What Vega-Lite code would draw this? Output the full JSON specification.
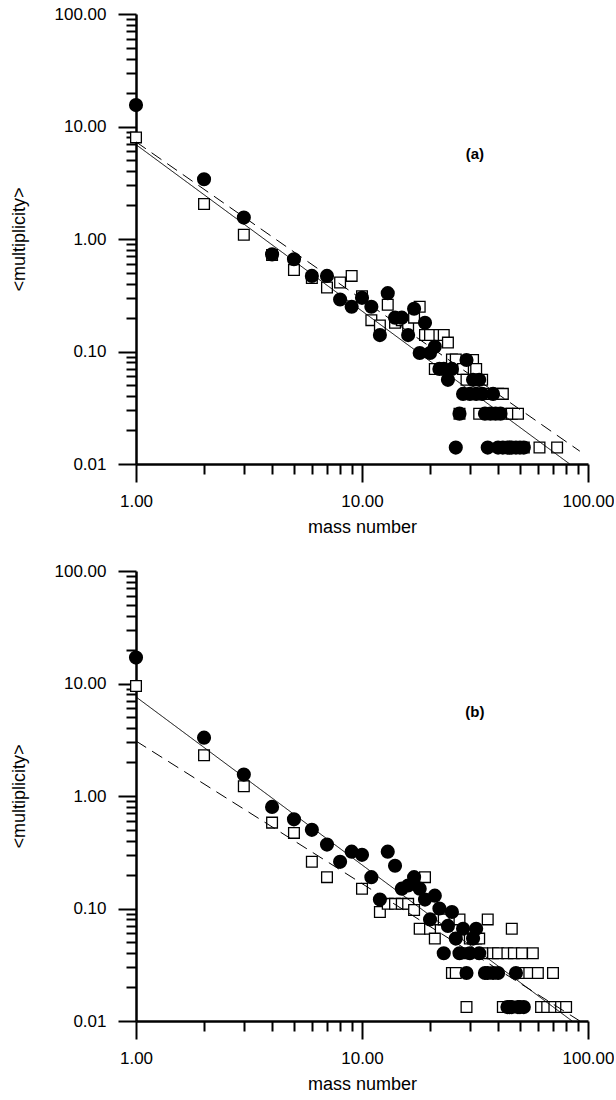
{
  "$schema": "https://vega.github.io/schema/vega-lite/v6.json",
  "background": "white",
  "padding": {"left": 10, "top": 5, "right": 0, "bottom": 0},
  "spacing": 26,
  "config": {
    "view": {"stroke": null},
    "font": "Liberation Sans",
    "axis": {
      "grid": false,
      "domainColor": "black",
      "domainWidth": 2.5,
      "tickColor": "black",
      "tickWidth": 2,
      "labelColor": "black",
      "titleColor": "black",
      "labelFontSize": 17,
      "titleFontSize": 18,
      "titleFontWeight": "normal",
      "labelOverlap": false,
      "labelBound": false,
      "labelFlush": false
    },
    "axisX": {"labelPadding": 11, "titlePadding": 9},
    "axisY": {"labelPadding": 12, "titlePadding": 26}
  },
  "datasets": {
    "points": [
      {"panel": "a", "series": "open", "A": 1, "m": 8.0},
      {"panel": "a", "series": "open", "A": 2, "m": 2.05},
      {"panel": "a", "series": "open", "A": 3, "m": 1.09},
      {"panel": "a", "series": "open", "A": 4, "m": 0.72},
      {"panel": "a", "series": "open", "A": 5, "m": 0.53},
      {"panel": "a", "series": "open", "A": 6, "m": 0.45},
      {"panel": "a", "series": "open", "A": 7, "m": 0.37},
      {"panel": "a", "series": "open", "A": 8, "m": 0.41},
      {"panel": "a", "series": "open", "A": 9, "m": 0.47},
      {"panel": "a", "series": "open", "A": 10, "m": 0.31},
      {"panel": "a", "series": "open", "A": 11, "m": 0.19},
      {"panel": "a", "series": "open", "A": 12, "m": 0.17},
      {"panel": "a", "series": "open", "A": 13, "m": 0.26},
      {"panel": "a", "series": "open", "A": 14, "m": 0.18},
      {"panel": "a", "series": "open", "A": 15, "m": 0.19},
      {"panel": "a", "series": "open", "A": 16, "m": 0.17},
      {"panel": "a", "series": "open", "A": 17, "m": 0.2},
      {"panel": "a", "series": "open", "A": 18, "m": 0.25},
      {"panel": "a", "series": "open", "A": 19, "m": 0.14},
      {"panel": "a", "series": "open", "A": 20, "m": 0.14},
      {"panel": "a", "series": "open", "A": 21, "m": 0.07},
      {"panel": "a", "series": "open", "A": 22, "m": 0.14},
      {"panel": "a", "series": "open", "A": 23, "m": 0.14},
      {"panel": "a", "series": "open", "A": 24, "m": 0.12},
      {"panel": "a", "series": "open", "A": 25, "m": 0.085},
      {"panel": "a", "series": "open", "A": 26, "m": 0.085},
      {"panel": "a", "series": "open", "A": 27, "m": 0.028},
      {"panel": "a", "series": "open", "A": 28, "m": 0.07},
      {"panel": "a", "series": "open", "A": 29, "m": 0.056},
      {"panel": "a", "series": "open", "A": 30, "m": 0.084},
      {"panel": "a", "series": "open", "A": 31, "m": 0.084},
      {"panel": "a", "series": "open", "A": 32, "m": 0.07},
      {"panel": "a", "series": "open", "A": 33, "m": 0.028},
      {"panel": "a", "series": "open", "A": 34, "m": 0.056},
      {"panel": "a", "series": "open", "A": 35, "m": 0.042},
      {"panel": "a", "series": "open", "A": 36, "m": 0.028},
      {"panel": "a", "series": "open", "A": 38, "m": 0.028},
      {"panel": "a", "series": "open", "A": 40, "m": 0.042},
      {"panel": "a", "series": "open", "A": 42, "m": 0.042},
      {"panel": "a", "series": "open", "A": 44, "m": 0.028},
      {"panel": "a", "series": "open", "A": 46, "m": 0.028},
      {"panel": "a", "series": "open", "A": 49, "m": 0.028},
      {"panel": "a", "series": "open", "A": 52, "m": 0.014},
      {"panel": "a", "series": "open", "A": 61, "m": 0.014},
      {"panel": "a", "series": "open", "A": 73, "m": 0.014},
      {"panel": "a", "series": "filled", "A": 1, "m": 15.5},
      {"panel": "a", "series": "filled", "A": 2, "m": 3.4},
      {"panel": "a", "series": "filled", "A": 3, "m": 1.55},
      {"panel": "a", "series": "filled", "A": 4, "m": 0.73},
      {"panel": "a", "series": "filled", "A": 5, "m": 0.66},
      {"panel": "a", "series": "filled", "A": 6, "m": 0.47},
      {"panel": "a", "series": "filled", "A": 7, "m": 0.47},
      {"panel": "a", "series": "filled", "A": 8, "m": 0.29},
      {"panel": "a", "series": "filled", "A": 9, "m": 0.25},
      {"panel": "a", "series": "filled", "A": 10, "m": 0.3},
      {"panel": "a", "series": "filled", "A": 11, "m": 0.25},
      {"panel": "a", "series": "filled", "A": 12, "m": 0.14},
      {"panel": "a", "series": "filled", "A": 13, "m": 0.33},
      {"panel": "a", "series": "filled", "A": 14, "m": 0.2},
      {"panel": "a", "series": "filled", "A": 15, "m": 0.2},
      {"panel": "a", "series": "filled", "A": 16, "m": 0.14},
      {"panel": "a", "series": "filled", "A": 17, "m": 0.24},
      {"panel": "a", "series": "filled", "A": 18, "m": 0.097},
      {"panel": "a", "series": "filled", "A": 19, "m": 0.18},
      {"panel": "a", "series": "filled", "A": 20, "m": 0.097},
      {"panel": "a", "series": "filled", "A": 21, "m": 0.11},
      {"panel": "a", "series": "filled", "A": 22, "m": 0.07},
      {"panel": "a", "series": "filled", "A": 23, "m": 0.07},
      {"panel": "a", "series": "filled", "A": 24, "m": 0.056},
      {"panel": "a", "series": "filled", "A": 25, "m": 0.07},
      {"panel": "a", "series": "filled", "A": 26, "m": 0.014},
      {"panel": "a", "series": "filled", "A": 27, "m": 0.028},
      {"panel": "a", "series": "filled", "A": 28, "m": 0.042},
      {"panel": "a", "series": "filled", "A": 29, "m": 0.084},
      {"panel": "a", "series": "filled", "A": 30, "m": 0.042},
      {"panel": "a", "series": "filled", "A": 31, "m": 0.056},
      {"panel": "a", "series": "filled", "A": 32, "m": 0.042},
      {"panel": "a", "series": "filled", "A": 33, "m": 0.056},
      {"panel": "a", "series": "filled", "A": 34, "m": 0.042},
      {"panel": "a", "series": "filled", "A": 35, "m": 0.028},
      {"panel": "a", "series": "filled", "A": 36, "m": 0.014},
      {"panel": "a", "series": "filled", "A": 37, "m": 0.028},
      {"panel": "a", "series": "filled", "A": 38, "m": 0.042},
      {"panel": "a", "series": "filled", "A": 39, "m": 0.028},
      {"panel": "a", "series": "filled", "A": 40, "m": 0.014},
      {"panel": "a", "series": "filled", "A": 41, "m": 0.028},
      {"panel": "a", "series": "filled", "A": 42, "m": 0.014},
      {"panel": "a", "series": "filled", "A": 44, "m": 0.014},
      {"panel": "a", "series": "filled", "A": 45, "m": 0.014},
      {"panel": "a", "series": "filled", "A": 46, "m": 0.014},
      {"panel": "a", "series": "filled", "A": 48, "m": 0.014},
      {"panel": "a", "series": "filled", "A": 50, "m": 0.014},
      {"panel": "a", "series": "filled", "A": 52, "m": 0.014},
      {"panel": "b", "series": "open", "A": 1, "m": 9.5},
      {"panel": "b", "series": "open", "A": 2, "m": 2.3},
      {"panel": "b", "series": "open", "A": 3, "m": 1.22},
      {"panel": "b", "series": "open", "A": 4, "m": 0.58},
      {"panel": "b", "series": "open", "A": 5, "m": 0.47},
      {"panel": "b", "series": "open", "A": 6, "m": 0.26},
      {"panel": "b", "series": "open", "A": 7, "m": 0.19},
      {"panel": "b", "series": "open", "A": 10, "m": 0.15},
      {"panel": "b", "series": "open", "A": 12, "m": 0.093},
      {"panel": "b", "series": "open", "A": 13, "m": 0.11},
      {"panel": "b", "series": "open", "A": 14, "m": 0.11},
      {"panel": "b", "series": "open", "A": 15, "m": 0.11},
      {"panel": "b", "series": "open", "A": 16, "m": 0.11},
      {"panel": "b", "series": "open", "A": 17, "m": 0.097},
      {"panel": "b", "series": "open", "A": 18, "m": 0.066},
      {"panel": "b", "series": "open", "A": 19, "m": 0.19},
      {"panel": "b", "series": "open", "A": 20, "m": 0.066},
      {"panel": "b", "series": "open", "A": 21, "m": 0.054},
      {"panel": "b", "series": "open", "A": 22, "m": 0.08},
      {"panel": "b", "series": "open", "A": 23, "m": 0.08},
      {"panel": "b", "series": "open", "A": 25, "m": 0.0267},
      {"panel": "b", "series": "open", "A": 26, "m": 0.0267},
      {"panel": "b", "series": "open", "A": 27, "m": 0.08},
      {"panel": "b", "series": "open", "A": 28, "m": 0.04},
      {"panel": "b", "series": "open", "A": 29, "m": 0.0133},
      {"panel": "b", "series": "open", "A": 30, "m": 0.054},
      {"panel": "b", "series": "open", "A": 31, "m": 0.054},
      {"panel": "b", "series": "open", "A": 32, "m": 0.054},
      {"panel": "b", "series": "open", "A": 33, "m": 0.054},
      {"panel": "b", "series": "open", "A": 34, "m": 0.04},
      {"panel": "b", "series": "open", "A": 36, "m": 0.08},
      {"panel": "b", "series": "open", "A": 38, "m": 0.04},
      {"panel": "b", "series": "open", "A": 40, "m": 0.04},
      {"panel": "b", "series": "open", "A": 42, "m": 0.0133},
      {"panel": "b", "series": "open", "A": 44, "m": 0.04},
      {"panel": "b", "series": "open", "A": 46, "m": 0.066},
      {"panel": "b", "series": "open", "A": 47, "m": 0.04},
      {"panel": "b", "series": "open", "A": 50, "m": 0.0267},
      {"panel": "b", "series": "open", "A": 51, "m": 0.04},
      {"panel": "b", "series": "open", "A": 55, "m": 0.0267},
      {"panel": "b", "series": "open", "A": 57, "m": 0.04},
      {"panel": "b", "series": "open", "A": 60, "m": 0.0267},
      {"panel": "b", "series": "open", "A": 62, "m": 0.0133},
      {"panel": "b", "series": "open", "A": 66, "m": 0.0133},
      {"panel": "b", "series": "open", "A": 70, "m": 0.0267},
      {"panel": "b", "series": "open", "A": 71, "m": 0.0133},
      {"panel": "b", "series": "open", "A": 76, "m": 0.0133},
      {"panel": "b", "series": "open", "A": 80, "m": 0.0133},
      {"panel": "b", "series": "filled", "A": 1, "m": 17.0},
      {"panel": "b", "series": "filled", "A": 2, "m": 3.3},
      {"panel": "b", "series": "filled", "A": 3, "m": 1.55},
      {"panel": "b", "series": "filled", "A": 4, "m": 0.8},
      {"panel": "b", "series": "filled", "A": 5, "m": 0.62},
      {"panel": "b", "series": "filled", "A": 6, "m": 0.5},
      {"panel": "b", "series": "filled", "A": 7, "m": 0.37},
      {"panel": "b", "series": "filled", "A": 8, "m": 0.26},
      {"panel": "b", "series": "filled", "A": 9, "m": 0.32},
      {"panel": "b", "series": "filled", "A": 10, "m": 0.3},
      {"panel": "b", "series": "filled", "A": 11, "m": 0.19},
      {"panel": "b", "series": "filled", "A": 12, "m": 0.12},
      {"panel": "b", "series": "filled", "A": 13, "m": 0.32},
      {"panel": "b", "series": "filled", "A": 14, "m": 0.24},
      {"panel": "b", "series": "filled", "A": 15, "m": 0.15},
      {"panel": "b", "series": "filled", "A": 16, "m": 0.16},
      {"panel": "b", "series": "filled", "A": 17, "m": 0.19},
      {"panel": "b", "series": "filled", "A": 18, "m": 0.15},
      {"panel": "b", "series": "filled", "A": 19, "m": 0.12},
      {"panel": "b", "series": "filled", "A": 20, "m": 0.08},
      {"panel": "b", "series": "filled", "A": 21, "m": 0.13},
      {"panel": "b", "series": "filled", "A": 22, "m": 0.1},
      {"panel": "b", "series": "filled", "A": 23, "m": 0.04},
      {"panel": "b", "series": "filled", "A": 24, "m": 0.07},
      {"panel": "b", "series": "filled", "A": 25, "m": 0.093},
      {"panel": "b", "series": "filled", "A": 26, "m": 0.054},
      {"panel": "b", "series": "filled", "A": 27, "m": 0.04},
      {"panel": "b", "series": "filled", "A": 28, "m": 0.066},
      {"panel": "b", "series": "filled", "A": 29, "m": 0.0267},
      {"panel": "b", "series": "filled", "A": 30, "m": 0.04},
      {"panel": "b", "series": "filled", "A": 31, "m": 0.054},
      {"panel": "b", "series": "filled", "A": 32, "m": 0.066},
      {"panel": "b", "series": "filled", "A": 33, "m": 0.04},
      {"panel": "b", "series": "filled", "A": 35, "m": 0.0267},
      {"panel": "b", "series": "filled", "A": 36, "m": 0.0267},
      {"panel": "b", "series": "filled", "A": 38, "m": 0.0267},
      {"panel": "b", "series": "filled", "A": 40, "m": 0.0267},
      {"panel": "b", "series": "filled", "A": 44, "m": 0.0133},
      {"panel": "b", "series": "filled", "A": 45, "m": 0.0133},
      {"panel": "b", "series": "filled", "A": 46, "m": 0.0133},
      {"panel": "b", "series": "filled", "A": 48, "m": 0.0267},
      {"panel": "b", "series": "filled", "A": 49, "m": 0.0133},
      {"panel": "b", "series": "filled", "A": 50, "m": 0.0133},
      {"panel": "b", "series": "filled", "A": 52, "m": 0.0133}
    ],
    "fits": [
      {"panel": "a", "fit": "solid", "A": 1, "m": 6.9},
      {"panel": "a", "fit": "solid", "A": 83, "m": 0.01},
      {"panel": "a", "fit": "dashed", "A": 1, "m": 7.3},
      {"panel": "a", "fit": "dashed", "A": 92, "m": 0.013},
      {"panel": "b", "fit": "solid", "A": 1, "m": 7.6},
      {"panel": "b", "fit": "solid", "A": 85, "m": 0.01},
      {"panel": "b", "fit": "dashed", "A": 1, "m": 3.08},
      {"panel": "b", "fit": "dashed", "A": 92, "m": 0.01}
    ]
  },
  "vconcat": [
    {
      "width": 452,
      "height": 450,
      "resolve": {"axis": {"x": "independent", "y": "independent"}},
      "layer": [
        {
          "data": {"name": "points"},
          "transform": [{"filter": "datum.panel == 'a' && datum.series == 'open'"}],
          "mark": {"type": "square", "size": 115, "fill": "white", "stroke": "black", "strokeWidth": 1.3, "opacity": 1},
          "encoding": {
            "x": {
              "field": "A", "type": "quantitative",
              "scale": {"type": "log", "domain": [1, 100], "nice": false},
              "axis": {"orient": "bottom", "title": "mass number", "values": [1, 10, 100], "format": ".2f", "tickSize": 18}
            },
            "y": {
              "field": "m", "type": "quantitative",
              "scale": {"type": "log", "domain": [0.01, 100], "nice": false},
              "axis": {"orient": "left", "title": "<multiplicity>", "values": [0.01, 0.1, 1, 10, 100], "format": ".2f", "tickSize": 18}
            }
          }
        },
        {
          "data": {"name": "points"},
          "transform": [{"filter": "datum.panel == 'a' && datum.series == 'filled'"}],
          "mark": {"type": "circle", "size": 200, "color": "black", "opacity": 1},
          "encoding": {
            "x": {
              "field": "A", "type": "quantitative",
              "axis": {"orient": "bottom", "title": null, "labels": false, "domain": false, "tickSize": 10, "values": [2, 3, 4, 5, 6, 7, 8, 9, 20, 30, 40, 50, 60, 70, 80, 90]}
            },
            "y": {
              "field": "m", "type": "quantitative",
              "axis": {"orient": "left", "title": null, "labels": false, "domain": false, "tickSize": 10, "values": [0.02, 0.03, 0.04, 0.05, 0.06, 0.07, 0.08, 0.09, 0.2, 0.3, 0.4, 0.5, 0.6, 0.7, 0.8, 0.9, 2, 3, 4, 5, 6, 7, 8, 9, 20, 30, 40, 50, 60, 70, 80, 90]}
            }
          }
        },
        {
          "data": {"name": "fits"},
          "transform": [{"filter": "datum.panel == 'a'"}],
          "mark": {"type": "line", "color": "black", "strokeWidth": 1},
          "encoding": {
            "x": {"field": "A", "type": "quantitative", "axis": null},
            "y": {"field": "m", "type": "quantitative", "axis": null},
            "detail": {"field": "fit"},
            "strokeDash": {"field": "fit", "type": "nominal", "scale": {"domain": ["solid", "dashed"], "range": [[1, 0], [12, 7]]}, "legend": null}
          }
        },
        {
          "data": {"values": [{}]},
          "mark": {"type": "text", "fontWeight": "bold", "fontSize": 15, "color": "black"},
          "encoding": {
            "x": {"datum": 31.6, "type": "quantitative", "axis": null},
            "y": {"datum": 5.7, "type": "quantitative", "axis": null},
            "text": {"value": "(a)"}
          }
        }
      ]
    },
    {
      "width": 452,
      "height": 450,
      "resolve": {"axis": {"x": "independent", "y": "independent"}},
      "layer": [
        {
          "data": {"name": "points"},
          "transform": [{"filter": "datum.panel == 'b' && datum.series == 'open'"}],
          "mark": {"type": "square", "size": 115, "fill": "white", "stroke": "black", "strokeWidth": 1.3, "opacity": 1},
          "encoding": {
            "x": {
              "field": "A", "type": "quantitative",
              "scale": {"type": "log", "domain": [1, 100], "nice": false},
              "axis": {"orient": "bottom", "title": "mass number", "values": [1, 10, 100], "format": ".2f", "tickSize": 18}
            },
            "y": {
              "field": "m", "type": "quantitative",
              "scale": {"type": "log", "domain": [0.01, 100], "nice": false},
              "axis": {"orient": "left", "title": "<multiplicity>", "values": [0.01, 0.1, 1, 10, 100], "format": ".2f", "tickSize": 18}
            }
          }
        },
        {
          "data": {"name": "points"},
          "transform": [{"filter": "datum.panel == 'b' && datum.series == 'filled'"}],
          "mark": {"type": "circle", "size": 200, "color": "black", "opacity": 1},
          "encoding": {
            "x": {
              "field": "A", "type": "quantitative",
              "axis": {"orient": "bottom", "title": null, "labels": false, "domain": false, "tickSize": 10, "values": [2, 3, 4, 5, 6, 7, 8, 9, 20, 30, 40, 50, 60, 70, 80, 90]}
            },
            "y": {
              "field": "m", "type": "quantitative",
              "axis": {"orient": "left", "title": null, "labels": false, "domain": false, "tickSize": 10, "values": [0.02, 0.03, 0.04, 0.05, 0.06, 0.07, 0.08, 0.09, 0.2, 0.3, 0.4, 0.5, 0.6, 0.7, 0.8, 0.9, 2, 3, 4, 5, 6, 7, 8, 9, 20, 30, 40, 50, 60, 70, 80, 90]}
            }
          }
        },
        {
          "data": {"name": "fits"},
          "transform": [{"filter": "datum.panel == 'b'"}],
          "mark": {"type": "line", "color": "black", "strokeWidth": 1},
          "encoding": {
            "x": {"field": "A", "type": "quantitative", "axis": null},
            "y": {"field": "m", "type": "quantitative", "axis": null},
            "detail": {"field": "fit"},
            "strokeDash": {"field": "fit", "type": "nominal", "scale": {"domain": ["solid", "dashed"], "range": [[1, 0], [14, 9]]}, "legend": null}
          }
        },
        {
          "data": {"values": [{}]},
          "mark": {"type": "text", "fontWeight": "bold", "fontSize": 15, "color": "black"},
          "encoding": {
            "x": {"datum": 31.6, "type": "quantitative", "axis": null},
            "y": {"datum": 5.6, "type": "quantitative", "axis": null},
            "text": {"value": "(b)"}
          }
        }
      ]
    }
  ]
}
